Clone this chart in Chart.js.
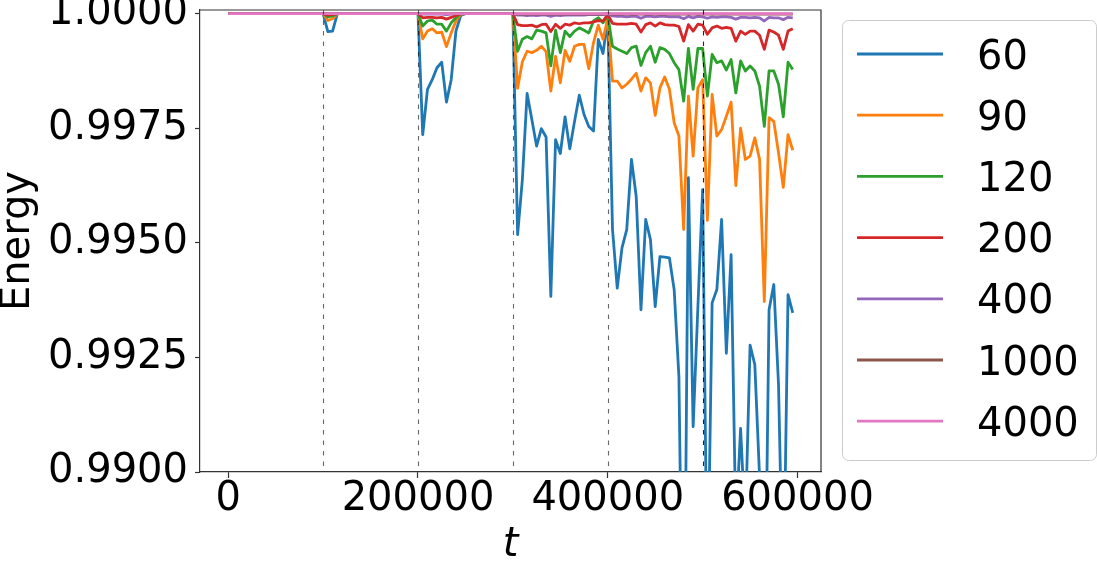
<!DOCTYPE html>
<html>
<head>
<meta charset="utf-8">
<script src="https://cdn.jsdelivr.net/npm/chart.js@4"></script>
<style>
html,body{margin:0;padding:0;background:#fff;}
#wrap{position:relative;width:1097px;height:568px;}
</style>
</head>
<body>
<div id="wrap"><canvas id="c" width="1097" height="568"></canvas></div>
<script>
const tValues = [
0,5000,10000,15000,20000,25000,30000,35000,40000,45000,50000,55000,60000,65000,70000,75000,80000,85000,90000,95000,
100000,105000,110000,115000,120000,125000,130000,135000,140000,145000,150000,155000,160000,165000,170000,175000,180000,185000,190000,195000,
200000,205000,210000,215000,220000,225000,230000,235000,240000,245000,250000,255000,260000,265000,270000,275000,280000,285000,290000,295000,
300000,305000,310000,315000,320000,325000,330000,335000,340000,345000,350000,355000,360000,365000,370000,375000,380000,385000,390000,395000,
400000,405000,410000,415000,420000,425000,430000,435000,440000,445000,450000,455000,460000,465000,470000,475000,480000,485000,490000,495000,
500000,505000,510000,515000,520000,525000,530000,535000,540000,545000,550000,555000,560000,565000,570000,575000,580000,585000,590000,595000];

const seriesLabels = ['60','90','120','200','400','1000','4000'];

const e60 = [
1,1,1,1,1,1,1,1,1,1,1,1,1,1,1,1,1,1,1,1,
1,0.99961,0.99962,1,1,1,1,1,1,1,1,1,1,1,1,1,1,1,1,1,
1,0.99736,0.99835,0.99856,0.99882,0.99894,0.99807,0.99856,0.99962,0.99996,1,1,1,1,1,1,1,1,1,1,
1,0.99518,0.99638,0.99826,0.99769,0.99711,0.99749,0.99731,0.99383,0.99725,0.99695,0.99775,0.99705,0.99765,0.99822,0.9978,0.99754,0.99744,0.99944,0.99913,
0.9999,0.9953,0.99401,0.99489,0.99529,0.99682,0.99601,0.99354,0.99551,0.99507,0.99361,0.9947,0.99469,0.99467,0.99398,0.99208,0.9843,0.99642,0.99099,0.9936,
0.99616,0.987,0.99369,0.99398,0.99551,0.99259,0.99474,0.9888,0.99095,0.9888,0.99277,0.99234,0.9899,0.9854,0.99354,0.99409,0.9919,0.987,0.99387,0.99347];

const e90 = [
1,1,1,1,1,1,1,1,1,1,1,1,1,1,1,1,1,1,1,1,
1,0.99985,0.99989,1,1,1,1,1,1,1,1,1,1,1,1,1,1,1,1,1,
1,0.99945,0.99962,0.99967,0.99958,0.9996,0.99928,0.99958,0.99984,0.99999,1,1,1,1,1,1,1,1,1,1,
1,0.99837,0.99895,0.99918,0.99915,0.9992,0.99929,0.99917,0.99831,0.99907,0.99849,0.9992,0.99896,0.99929,0.99933,0.99933,0.9988,0.99937,0.99975,0.99944,
0.9999,0.99853,0.99853,0.99838,0.99846,0.99857,0.9987,0.99831,0.9986,0.99849,0.99778,0.99838,0.99862,0.99835,0.99762,0.99733,0.99529,0.9982,0.99689,0.99838,
0.99856,0.99549,0.99824,0.99733,0.99747,0.99776,0.99807,0.99625,0.9975,0.99682,0.99689,0.99729,0.99682,0.99372,0.99773,0.99765,0.99696,0.99621,0.99736,0.99702];

const e120 = [
1,1,1,1,1,1,1,1,1,1,1,1,1,1,1,1,1,1,1,1,
1,0.99993,0.99995,1,1,1,1,1,1,1,1,1,1,1,1,1,1,1,1,1,
1,0.99973,0.99984,0.99986,0.99977,0.99977,0.99962,0.9998,0.99991,1,1,1,1,1,1,1,1,1,1,1,
1,0.99918,0.99944,0.9995,0.99945,0.99964,0.99962,0.99958,0.99886,0.99964,0.99915,0.99962,0.9995,0.99962,0.99969,0.99964,0.99958,0.99984,0.99991,0.9998,
0.99997,0.99929,0.99923,0.99918,0.99913,0.99926,0.99929,0.99887,0.99915,0.99929,0.99894,0.99926,0.99922,0.99913,0.99893,0.99878,0.99809,0.99924,0.99835,0.99924,
0.99924,0.9982,0.99911,0.99893,0.99897,0.99877,0.999,0.99827,0.99897,0.99875,0.99886,0.99875,0.99842,0.99754,0.99875,0.99875,0.99846,0.99775,0.99894,0.99878];

const e200 = [
1,1,1,1,1,1,1,1,1,1,1,1,1,1,1,1,1,1,1,1,
1,0.99997,0.99998,1,1,1,1,1,1,1,1,1,1,1,1,1,1,1,1,1,
1,0.99991,0.99992,0.99992,0.99991,0.99992,0.99988,0.99992,0.99996,1,1,1,1,1,1,1,1,1,1,1,
1,0.99976,0.99974,0.99974,0.99975,0.99971,0.99976,0.99977,0.99961,0.99977,0.99968,0.99977,0.99975,0.9998,0.99978,0.9998,0.9998,0.99982,0.99985,0.99984,
0.99998,0.99979,0.99977,0.99977,0.99977,0.99979,0.99977,0.9996,0.99976,0.9998,0.99973,0.9998,0.99976,0.99975,0.99975,0.99972,0.9994,0.99976,0.99962,0.99977,
0.99975,0.99955,0.99969,0.99973,0.99968,0.9997,0.99968,0.9994,0.99962,0.99955,0.99962,0.99962,0.99953,0.99922,0.99964,0.9996,0.99953,0.99922,0.99962,0.99967];

const e400 = [
1,1,1,1,1,1,1,1,1,1,1,1,1,1,1,1,1,1,1,1,
1,1,1,1,1,1,1,1,1,1,1,1,1,1,1,1,1,1,1,1,
1,0.99999,0.99999,0.99999,0.99999,0.99999,0.99998,0.99999,1,1,1,1,1,1,1,1,1,1,1,1,
1,0.99997,0.99997,0.99996,0.99997,0.99996,0.99997,0.99997,0.99994,0.99997,0.99996,0.99997,0.99997,0.99997,0.99997,0.99997,0.99998,0.99998,0.99998,0.99998,
1,0.99995,0.99994,0.99994,0.99993,0.99994,0.99994,0.9999,0.99994,0.99994,0.99993,0.99994,0.99994,0.99993,0.99993,0.99993,0.99989,0.99994,0.99991,0.99994,
0.99993,0.9999,0.99993,0.99992,0.99993,0.99993,0.99992,0.99988,0.99992,0.99992,0.99991,0.99992,0.99991,0.99984,0.99992,0.99991,0.99991,0.99987,0.99992,0.99991];

const e1000 = [
1,1,1,1,1,1,1,1,1,1,1,1,1,1,1,1,1,1,1,1,
1,1,1,1,1,1,1,1,1,1,1,1,1,1,1,1,1,1,1,1,
1,1,1,1,1,1,1,1,1,1,1,1,1,1,1,1,1,1,1,1,
1,0.99999,0.99999,0.99999,0.99999,0.99999,0.99999,0.99999,0.99999,0.99999,0.99999,0.99999,0.99999,0.99999,0.99999,0.99999,0.99999,0.99999,0.99999,0.99999,
1,0.99999,0.99999,0.99999,0.99999,0.99999,0.99999,0.99999,0.99999,0.99999,0.99999,0.99999,0.99999,0.99999,0.99999,0.99999,0.99999,0.99999,0.99999,0.99999,
0.99999,0.99999,0.99999,0.99999,0.99999,0.99999,0.99999,0.99999,0.99999,0.99999,0.99999,0.99999,0.99999,0.99999,0.99999,0.99999,0.99999,0.99999,0.99999,0.99999];

const e4000 = [
1,1,1,1,1,1,1,1,1,1,1,1,1,1,1,1,1,1,1,1,
1,1,1,1,1,1,1,1,1,1,1,1,1,1,1,1,1,1,1,1,
1,1,1,1,1,1,1,1,1,1,1,1,1,1,1,1,1,1,1,1,
1,1,1,1,1,1,1,1,1,1,1,1,1,1,1,1,1,1,1,1,
1,1,1,1,1,1,1,1,1,1,1,1,1,1,1,1,1,1,1,1,
1,1,1,1,1,1,1,1,1,1,1,1,1,1,1,1,1,1,1,1];

const xTicks = [0, 200000, 400000, 600000];
const yTicks = [0.99, 0.9925, 0.995, 0.9975, 1.0];
const vLines = [100000, 200000, 300000, 400000, 500000];

const allSeries = [e60, e90, e120, e200, e400, e1000, e4000];
const colors = ['#1f77b4','#ff7f0e','#2ca02c','#d62728','#9467bd','#8c564b','#e377c2'];
const FONT = 'DejaVu Sans';

Chart.defaults.font.family = FONT;

const datasets = allSeries.map((s, i) => ({
  label: seriesLabels[i],
  data: tValues.map((t, j) => ({x: t, y: s[j]})),
  borderColor: colors[i],
  backgroundColor: colors[i],
  borderWidth: 2.8,
  pointRadius: 0,
  pointHoverRadius: 0,
  tension: 0,
  fill: false,
  borderJoinStyle: 'round',
  order: allSeries.length - i
}));

const framePlugin = {
  id: 'frame',
  afterDatasetsDraw(chart) {
    const {ctx, chartArea: a, scales} = chart;
    ctx.save();
    ctx.beginPath();
    ctx.rect(a.left, a.top, a.right - a.left, a.bottom - a.top);
    ctx.clip();
    ctx.setLineDash([4.5, 6]);
    ctx.lineWidth = 1.1;
    vLines.forEach(v => {
      const x = Math.round(scales.x.getPixelForValue(v)) + 0.5;
      ctx.strokeStyle = v === 500000 ? 'rgba(0,0,0,0.85)' : 'rgba(0,0,0,0.6)';
      ctx.beginPath();
      ctx.moveTo(x, a.top);
      ctx.lineTo(x, a.bottom);
      ctx.stroke();
    });
    ctx.restore();
    ctx.save();
    ctx.strokeStyle = '#333';
    ctx.lineWidth = 1.2;
    ctx.beginPath();
    ctx.moveTo(a.left, a.top);
    ctx.lineTo(a.right, a.top);
    ctx.lineTo(a.right, a.bottom);
    ctx.stroke();
    ctx.restore();
  }
};

const legendPlugin = {
  id: 'mplLegend',
  afterDraw(chart) {
    const ctx = chart.ctx;
    ctx.save();
    const bx = 842.5, by = 20.5, bw = 254, bh = 440, r = 6;
    ctx.beginPath();
    ctx.moveTo(bx + r, by);
    ctx.lineTo(bx + bw - r, by);
    ctx.arcTo(bx + bw, by, bx + bw, by + r, r);
    ctx.lineTo(bx + bw, by + bh - r);
    ctx.arcTo(bx + bw, by + bh, bx + bw - r, by + bh, r);
    ctx.lineTo(bx + r, by + bh);
    ctx.arcTo(bx, by + bh, bx, by + bh - r, r);
    ctx.lineTo(bx, by + r);
    ctx.arcTo(bx, by, bx + r, by, r);
    ctx.closePath();
    ctx.fillStyle = 'rgba(255,255,255,0.8)';
    ctx.fill();
    ctx.strokeStyle = '#cccccc';
    ctx.lineWidth = 1;
    ctx.stroke();
    ctx.font = '40px "' + FONT + '"';
    ctx.textAlign = 'left';
    ctx.textBaseline = 'alphabetic';
    chart.data.datasets.forEach((ds, i) => {
      const cy = 54 + i * 61.2;
      ctx.strokeStyle = ds.borderColor;
      ctx.lineWidth = 2.8;
      ctx.beginPath();
      ctx.moveTo(857, cy);
      ctx.lineTo(943, cy);
      ctx.stroke();
      ctx.fillStyle = '#000';
      ctx.fillText(ds.label, 977, cy + 14.6);
    });
    ctx.restore();
  }
};

new Chart(document.getElementById('c'), {
  type: 'line',
  data: { datasets },
  options: {
    responsive: false,
    animation: false,
    devicePixelRatio: 1,
    layout: { padding: { left: 0, right: 276, top: 10, bottom: 0 } },
    plugins: { legend: { display: false }, tooltip: { enabled: false } },
    scales: {
      x: {
        type: 'linear',
        min: -29750,
        max: 624750,
        afterBuildTicks: s => { s.ticks = xTicks.map(v => ({value: v})); },
        afterFit: s => { s.height = 96; s.paddingLeft = 0; s.paddingRight = 0; },
        ticks: {
          autoSkip: false, maxRotation: 0, minRotation: 0,
          color: '#000', padding: -2,
          font: { family: FONT, size: 40 },
          callback: v => String(v)
        },
        grid: { display: true, drawOnChartArea: false, drawTicks: true, tickLength: 6, tickColor: '#333', tickWidth: 1.2 },
        border: { display: true, color: '#333', width: 1.2 },
        title: { display: true, text: 't', color: '#000', padding: { top: 0, bottom: -2 },
                 font: { family: FONT, size: 40, style: 'italic' } }
      },
      y: {
        type: 'linear',
        min: 0.99,
        max: 1.00008,
        afterBuildTicks: s => { s.ticks = yTicks.map(v => ({value: v})); },
        afterFit: s => { s.width = 200; s.paddingTop = 0; s.paddingBottom = 0; },
        ticks: {
          autoSkip: false, color: '#000', padding: 7,
          font: { family: FONT, size: 40 },
          callback: v => Number(v).toFixed(4)
        },
        grid: { display: true, drawOnChartArea: false, drawTicks: true, tickLength: 5, tickColor: '#333', tickWidth: 1.2 },
        border: { display: true, color: '#333', width: 1.2 },
        title: { display: true, text: 'Energy', color: '#000', padding: { top: 1, bottom: 0 },
                 font: { family: FONT, size: 40, lineHeight: 0.9 } }
      }
    }
  },
  plugins: [framePlugin, legendPlugin]
});
</script>
</body>
</html>
